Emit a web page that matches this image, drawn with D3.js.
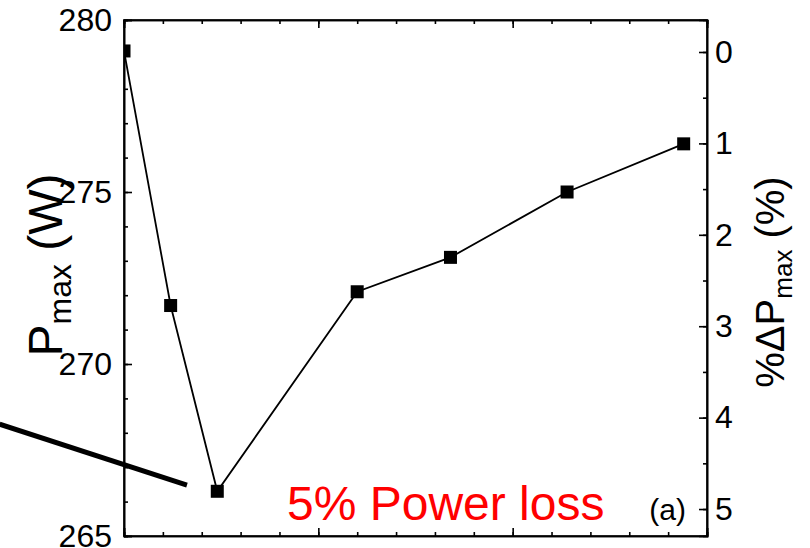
<!DOCTYPE html>
<html>
<head>
<meta charset="utf-8">
<script src="https://cdn.jsdelivr.net/npm/d3@7"></script>
<style>
  body { margin: 0; background: #fff; }
  text { font-family: 'Liberation Sans', Arial, sans-serif; }
</style>
</head>
<body>
<svg id="chart"></svg>
<script>
// values
const xVals = [0, 1.2, 2.4, 6.0, 8.4, 11.4, 14.4]
const pmax = [279.1, 271.7, 266.3, 272.1, 273.1, 275.0, 276.4]
const leftTicks = [265, 270, 275, 280]
const rightTicks = [0, 1, 2, 3, 4, 5]
// thick pointer line, in data units
const pointerX = [-3.2, 1.62]
const pointerY = [268.25, 266.48]

const width = 810
const height = 548
const margin = {top: 20, right: 103, bottom: 12, left: 124}

const svg = d3.select('#chart')
  .attr('width', width)
  .attr('height', height)

const x = d3.scaleLinear().domain([0, 15]).range([margin.left, width - margin.right])
const y = d3.scaleLinear().domain([265, 280]).range([height - margin.bottom, margin.top])
const yR = d3.scaleLinear().domain([-0.35, 5.295]).range([margin.top, height - margin.bottom])

const fs = 32

const x0 = margin.left, x1 = width - margin.right
const y0 = margin.top, y1 = height - margin.bottom

// left axis
svg.append('g')
  .attr('transform', `translate(${x0},0)`)
  .call(d3.axisLeft(y).tickValues(d3.range(265, 281, 1)).tickSize(-4).tickFormat(''))
svg.append('g')
  .attr('transform', `translate(${x0},0)`)
  .call(d3.axisLeft(y).tickValues(leftTicks).tickSize(-8).tickPadding(12).tickFormat(d3.format('d')))
  .call(g => g.selectAll('text').attr('font-size', fs))

// right axis
svg.append('g')
  .attr('transform', `translate(${x1},0)`)
  .call(d3.axisRight(yR).tickValues(d3.range(0, 5.01, 0.5)).tickSize(-4).tickFormat(''))
svg.append('g')
  .attr('transform', `translate(${x1},0)`)
  .call(d3.axisRight(yR).tickValues(rightTicks).tickSize(-8).tickPadding(8).tickFormat(d3.format('d')))
  .call(g => g.selectAll('text').attr('font-size', fs))

// top / bottom axes, no labels
svg.append('g')
  .attr('transform', `translate(0,${y0})`)
  .call(d3.axisTop(x).tickValues(d3.range(0, 16, 1)).tickSize(-4).tickFormat(''))
svg.append('g')
  .attr('transform', `translate(0,${y0})`)
  .call(d3.axisTop(x).tickValues([0, 5, 10, 15]).tickSize(-8).tickFormat(''))
svg.append('g')
  .attr('transform', `translate(0,${y1})`)
  .call(d3.axisBottom(x).tickValues(d3.range(0, 16, 1)).tickSize(-4).tickFormat(''))
svg.append('g')
  .attr('transform', `translate(0,${y1})`)
  .call(d3.axisBottom(x).tickValues([0, 5, 10, 15]).tickSize(-8).tickFormat(''))

svg.selectAll('.domain').attr('stroke', '#000').attr('stroke-width', 1.6)
svg.selectAll('.tick line').attr('stroke', '#000').attr('stroke-width', 1.6)
svg.selectAll('.tick text').attr('fill', '#000')

// frame box
svg.append('rect')
  .attr('x', x0).attr('y', y0)
  .attr('width', x1 - x0).attr('height', y1 - y0)
  .attr('fill', 'none').attr('stroke', '#000').attr('stroke-width', 1.6)

svg.append('clipPath').attr('id', 'clip')
  .append('rect')
  .attr('x', x0).attr('y', y0)
  .attr('width', x1 - x0).attr('height', y1 - y0)

const data = xVals.map((d, i) => ({x: d, p: pmax[i]}))

const line = d3.line().x(d => x(d.x)).y(d => y(d.p))

const plot = svg.append('g').attr('clip-path', 'url(#clip)')

plot.append('path')
  .datum(data)
  .attr('d', line)
  .attr('fill', 'none')
  .attr('stroke', '#000')
  .attr('stroke-width', 1.8)

const ms = 13
plot.selectAll('rect.pt')
  .data(data)
  .enter().append('rect')
  .attr('class', 'pt')
  .attr('x', d => x(d.x) - ms / 2)
  .attr('y', d => y(d.p) - ms / 2)
  .attr('width', ms)
  .attr('height', ms)
  .attr('fill', '#000')

// thick pointer line from the left
svg.append('line')
  .attr('x1', x(pointerX[0])).attr('y1', y(pointerY[0]))
  .attr('x2', x(pointerX[1])).attr('y2', y(pointerY[1]))
  .attr('stroke', '#000')
  .attr('stroke-width', 5)

// axis titles
const lt = svg.append('text')
  .attr('transform', `translate(62,265) rotate(-90)`)
  .attr('text-anchor', 'middle')
  .attr('font-size', 48)
lt.append('tspan').text('P')
lt.append('tspan').attr('font-size', 32).attr('dy', 9).text('max')
lt.append('tspan').attr('dy', -9).text(' (W)')

const rt = svg.append('text')
  .attr('transform', `translate(784,282) rotate(-90)`)
  .attr('text-anchor', 'middle')
  .attr('font-size', 40)
rt.append('tspan').text('%\u0394P')
rt.append('tspan').attr('font-size', 26).attr('dy', 8).text('max')
rt.append('tspan').attr('dy', -8).text(' (%)')

// annotations
svg.append('text')
  .attr('x', 287).attr('y', 520)
  .attr('font-size', 48)
  .attr('fill', '#ff0000')
  .text('5% Power loss')

svg.append('text')
  .attr('x', 686).attr('y', 520)
  .attr('text-anchor', 'end')
  .attr('font-size', 30)
  .attr('fill', '#000')
  .text('(a)')
</script>
</body>
</html>
